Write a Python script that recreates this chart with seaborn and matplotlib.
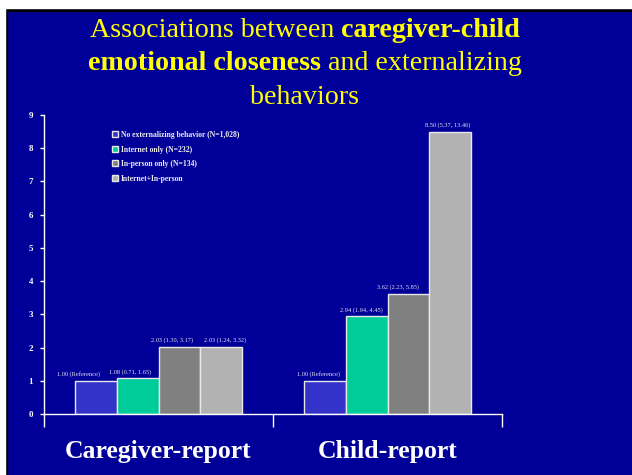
import pandas as pd
import numpy as np
import matplotlib
matplotlib.use("Agg")
import matplotlib.pyplot as plt
from matplotlib.patches import Rectangle
import seaborn as sns

REPORTS = ["Caregiver-report", "Child-report"]
GROUPS = ["No externalizing behavior (N=1,028)", "Internet only (N=232)",
          "In-person only (N=134)", "Internet+In-person"]
CAREGIVER_OR = [1.00, 1.08, 2.03, 2.03]
CHILD_OR = [1.00, 2.94, 3.62, 8.50]
CAREGIVER_LABELS = ["1.00 (Reference)", "1.08 (0.71, 1.65)", "2.03 (1.30, 3.17)", "2.03 (1.24, 3.32)"]
CHILD_LABELS = ["1.00 (Reference)", "2.94 (1.94, 4.45)", "3.62 (2.23, 5.85)", "8.50 (5.37, 13.46)"]

# horizontal nudge of each value label (pixels), as placed on the original slide
CAREGIVER_SHIFT = [-17, -8, -7, 4]
CHILD_SHIFT = [-6, -5, -10, -3]

BG = "#000099"
COLORS = ["#3333CC", "#00CC99", "#808080", "#B2B2B2"]
TITLE_LINES = [
    [("Associations between ", "normal"), ("caregiver-child", "bold")],
    [("emotional closeness", "bold"), (" and externalizing", "normal")],
    [("behaviors", "normal")],
]

df = pd.DataFrame({
    "report": REPORTS[0:1] * 4 + REPORTS[1:2] * 4,
    "group": GROUPS + GROUPS,
    "or": CAREGIVER_OR + CHILD_OR,
})

sns.set_style("white")
plt.rcParams["font.family"] = ["Liberation Serif", "DejaVu Serif"]

W, H = 632, 475
PX = 0.72  # points per pixel at dpi 100
fig = plt.figure(figsize=(W / 100, H / 100), dpi=100, facecolor=BG)
ax = fig.add_axes([44 / W, 1 - 414 / H, (502 - 44) / W, (414 - 115) / H])
ax.set_facecolor(BG)

sns.barplot(data=df, x="report", y="or", hue="group", order=REPORTS, hue_order=GROUPS,
            palette=COLORS, width=0.73, saturation=1, edgecolor="#E8E8E8", linewidth=1,
            errorbar=None, ax=ax)

for cont, i in zip(ax.containers, range(4)):
    anns = ax.bar_label(cont, labels=[CAREGIVER_LABELS[i], CHILD_LABELS[i]], padding=2.5,
                        fontsize=4.6, color="#E0E0F0")
    anns[0].xyann = (CAREGIVER_SHIFT[i] * PX, 2.5)
    anns[1].xyann = (CHILD_SHIFT[i] * PX, 2.5)

ax.set_xlim(-0.5, 1.5)
ax.set_ylim(0, 9)
ax.set_yticks(range(10))
ax.set_yticklabels([str(v) for v in range(10)], fontsize=6.5, fontweight="bold", color="white")
ax.tick_params(axis="y", direction="out", length=3, width=1, color="white", pad=5, left=True)
ax.set_xticks([-0.5, 0.5, 1.5])
ax.set_xticklabels(["", "", ""])
ax.tick_params(axis="x", which="major", direction="out", length=9, width=1, color="white", bottom=True)
ax.set_xticks([0, 1], minor=True)
ax.set_xticklabels(REPORTS, minor=True, fontsize=18.5, fontweight="bold", color="white")
ax.tick_params(axis="x", which="minor", length=0, pad=19)
ax.set_xlabel("")
ax.set_ylabel("")
for s in ["top", "right"]:
    ax.spines[s].set_visible(False)
for s in ["left", "bottom"]:
    ax.spines[s].set_color("white")
    ax.spines[s].set_linewidth(1)

leg = ax.legend(loc="upper left", bbox_to_anchor=((109 - 44) / (502 - 44), 1 - (128 - 115) / (414 - 115)),
                frameon=False, prop={"size": 5.5, "weight": "bold"}, handlelength=0.8, handleheight=0.8,
                handletextpad=0.4, labelspacing=0.85, borderaxespad=0)
for t in leg.get_texts():
    t.set_color("#EEEEEE")

# title with mixed bold / normal pieces
renderer = fig.canvas.get_renderer()
cx = 305 / W
for row, line in enumerate(TITLE_LINES):
    y = 1 - (30.5 + row * 33.5) / H
    pieces = []
    for txt, wt in line:
        t = fig.text(0, y, txt, fontsize=20.2, fontweight=wt, color="#FFFF00", va="center", ha="left")
        pieces.append(t)
    widths = [p.get_window_extent(renderer).width / W for p in pieces]
    x = cx - sum(widths) / 2
    for p, w in zip(pieces, widths):
        p.set_x(x)
        x += w

# slide border
fig.patches.append(Rectangle((0, 1 - 8 / H), 1, 8 / H, transform=fig.transFigure, color="white", zorder=10))
fig.patches.append(Rectangle((0, 1 - 11 / H), 1, 3 / H, transform=fig.transFigure, color="black", zorder=9))
fig.patches.append(Rectangle((0, 0), 5 / W, 1, transform=fig.transFigure, color="white", zorder=10))
fig.patches.append(Rectangle((5 / W, 0), 2 / W, 1 - 8 / H, transform=fig.transFigure, color="black", zorder=9))

fig.savefig("out.png", dpi=100, facecolor=BG)
